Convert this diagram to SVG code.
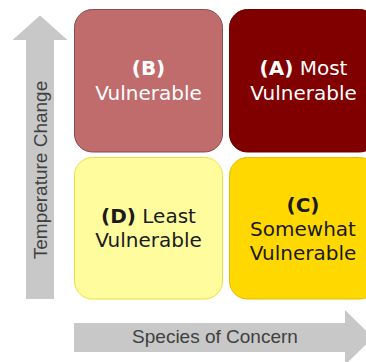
<svg xmlns="http://www.w3.org/2000/svg" width="366" height="362" viewBox="0 0 366 362">
<style>
.arrow{fill:#c8c8c8;}
.axis{font-family:"Liberation Sans",Arial,sans-serif;font-size:19px;fill:#404040;}
.lbl{font-family:"DejaVu Sans",Verdana,sans-serif;font-size:20px;text-anchor:middle;}
.b{font-weight:bold;}
.w{fill:#ffffff;}
.k{fill:#1a1a1a;}
</style>
<g id="connectors">
<path class="arrow" d="M26,299 L26,40 L12.5,40 L40,15.5 L67.5,40 L54,40 L54,299 Z"/>
<path class="arrow" d="M74,323 L345,323 L345,310 L373,337.5 L345,365 L345,352 L74,352 Z"/>
</g>
<g id="axis-y">
<text class="axis" transform="translate(47,170) rotate(-90)" text-anchor="middle">Temperature Change</text>
</g>
<g id="axis-x">
<text class="axis" x="215" y="343" text-anchor="middle">Species of Concern</text>
</g>
<g id="nodeB">
<rect x="74.5" y="9.5" width="148" height="142.5" rx="18" fill="#c06b6c" stroke="#8c4a4b"/>
<text class="lbl w" x="148.5" y="75"><tspan class="b">(B)</tspan></text>
<text class="lbl w" x="148.5" y="100">Vulnerable</text>
</g>
<g id="nodeA">
<rect x="229.5" y="9.5" width="148" height="142.5" rx="18" fill="#800000" stroke="#6a0000"/>
<text class="lbl w" x="303.5" y="75"><tspan class="b">(A)</tspan> Most</text>
<text class="lbl w" x="303.5" y="100">Vulnerable</text>
</g>
<g id="nodeD">
<rect x="74.5" y="157.5" width="148" height="141.5" rx="18" fill="#fffc9d" stroke="#e8e23c"/>
<text class="lbl k" x="148.5" y="223"><tspan class="b">(D)</tspan> Least</text>
<text class="lbl k" x="148.5" y="247">Vulnerable</text>
</g>
<g id="nodeC">
<rect x="229.5" y="157.5" width="148" height="141.5" rx="18" fill="#ffd800" stroke="#e6bd00"/>
<text class="lbl k b" x="303" y="212">(C)</text>
<text class="lbl k" x="303" y="236">Somewhat</text>
<text class="lbl k" x="303" y="260">Vulnerable</text>
</g>
</svg>
